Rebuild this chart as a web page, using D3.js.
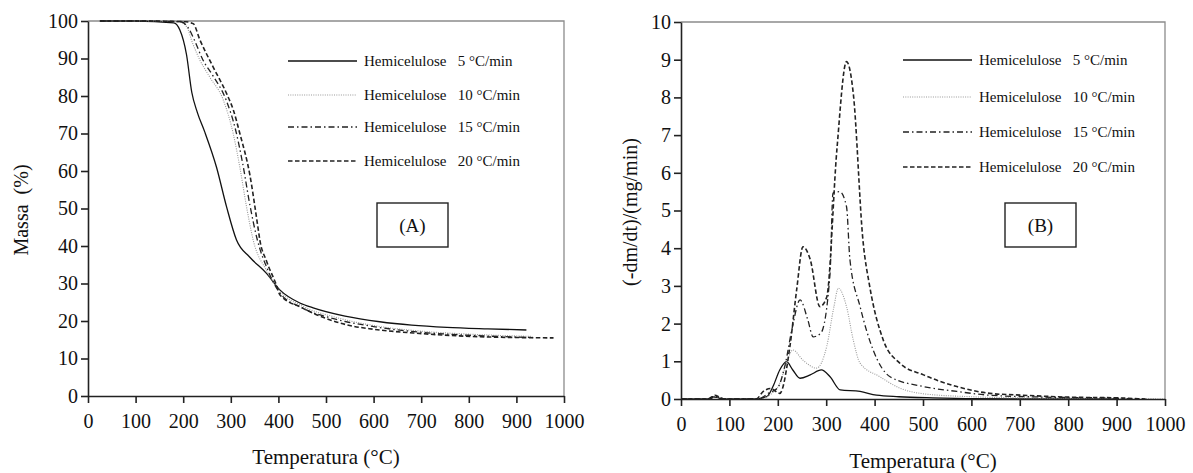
<!DOCTYPE html>
<html>
<head>
<meta charset="utf-8">
<script src="https://cdn.jsdelivr.net/npm/d3@7"></script>
<style>
  body { margin: 0; background: #fff; }
  svg text { font-family: "Liberation Serif", "Times New Roman", serif; fill: #111; }
</style>
</head>
<body>
<svg id="chart" width="1193" height="473"></svg>
<script>
// Dados -------------------------------------------------------------
const seriesNames = ["Hemicelulose   5 °C/min", "Hemicelulose   10 °C/min",
                     "Hemicelulose   15 °C/min", "Hemicelulose   20 °C/min"];

// (A) Massa (%) vs Temperatura
const tgaTemp5  = [25, 100, 180, 193, 207, 218, 230, 245, 270, 291, 312, 340, 375, 403, 445, 473, 540, 613, 680, 754, 840, 921];
const tgaMass5  = [100, 100, 99.5, 97.6, 91, 81, 75.5, 70.5, 61, 50.5, 41.6, 37, 32.7, 28.3, 24.8, 23.5, 21.3, 19.8, 18.9, 18.3, 17.9, 17.6];
const tgaTemp10 = [25, 100, 190, 207, 220, 235, 256, 284, 305, 319, 333, 347, 375, 403, 450, 520, 600, 700, 800, 930];
const tgaMass10 = [100, 100, 99.8, 98.5, 94, 89.6, 85, 79, 70, 61, 50.5, 41.6, 33.5, 28, 24, 21, 18.8, 17.3, 16.5, 15.9];
const tgaTemp15 = [25, 100, 195, 210, 225, 240, 262, 290, 310, 325, 340, 355, 378, 403, 450, 520, 600, 700, 800, 935];
const tgaMass15 = [100, 100, 99.8, 98.3, 94.5, 90, 85.5, 79, 71, 62, 51, 42, 33.5, 27.5, 23.5, 20.5, 18.5, 17, 16.2, 15.6];
const tgaTemp20 = [25, 100, 205, 221, 235, 263, 291, 306, 319, 340, 357, 361, 375, 396, 403, 450, 543, 600, 684, 824, 978];
const tgaMass20 = [100, 100, 99.8, 99.3, 95, 87.7, 80.7, 76, 70, 59, 45, 41.6, 36, 29.5, 27, 23.5, 19, 17.8, 16.8, 15.8, 15.5];

// (B) (-dm/dt)/(mg/min) vs Temperatura
const dtgTemp5  = [0, 55, 65, 75, 85, 150, 177, 190, 204, 218, 231, 246, 267, 290, 308, 329, 370, 404, 450, 520, 600, 700, 900];
const dtgRate5  = [0, 0, 0.06, 0.04, 0, 0, 0.06, 0.33, 0.77, 0.99, 0.77, 0.55, 0.64, 0.77, 0.59, 0.24, 0.2, 0.1, 0.06, 0.03, 0.01, 0, 0];
const dtgTemp10 = [0, 60, 70, 80, 90, 160, 185, 204, 218, 231, 252, 280, 301, 316, 325, 342, 356, 370, 411, 452, 500, 600, 700, 800, 1000];
const dtgRate10 = [0, 0, 0.07, 0.04, 0, 0, 0.12, 0.42, 0.95, 1.3, 1.03, 0.82, 1.39, 2.45, 2.94, 2.45, 1.56, 0.95, 0.59, 0.29, 0.14, 0.06, 0.03, 0.02, 0];
const dtgTemp15 = [0, 60, 70, 80, 90, 160, 180, 200, 215, 230, 246, 262, 273, 289, 308, 314, 328, 342, 349, 370, 397, 432, 501, 570, 638, 750, 900, 930];
const dtgRate15 = [0, 0, 0.08, 0.03, 0, 0, 0.15, 0.3, 0.9, 1.9, 2.63, 2.1, 1.65, 1.75, 3.34, 5.46, 5.5, 5.1, 3.7, 2.45, 1.3, 0.59, 0.33, 0.2, 0.1, 0.05, 0.02, 0];
const dtgTemp20 = [0, 60, 70, 80, 90, 155, 170, 185, 204, 225, 239, 252, 267, 287, 301, 322, 342, 356, 376, 390, 418, 452, 501, 570, 638, 707, 800, 900, 960];
const dtgRate20 = [0, 0, 0.1, 0.05, 0, 0, 0.2, 0.28, 0.15, 1.39, 2.9, 4.04, 3.7, 2.45, 2.7, 6.6, 8.95, 8.1, 4.2, 2.98, 1.56, 0.95, 0.64, 0.33, 0.15, 0.1, 0.05, 0.03, 0];

const xTicks = d3.range(0, 1001, 100);
const yTicksA = d3.range(0, 101, 10);
const yTicksB = d3.range(0, 11, 1);

// Estilos das linhas
const lineStyles = [
  { stroke: "#111", width: 1.3, dash: null },
  { stroke: "#999", width: 1.1, dash: "1,1.3" },
  { stroke: "#222", width: 1.3, dash: "6,3,1.5,3" },
  { stroke: "#222", width: 1.6, dash: "4.5,2.5" }
];

const serif = '"Liberation Serif", "Times New Roman", serif';
const svg = d3.select("#chart");

function zip(ts, vs) { return ts.map((t, i) => [t, vs[i]]); }

function drawPanel(cfg) {
  const x = d3.scaleLinear().domain([0, 1000]).range([cfg.left, cfg.right]);
  const y = d3.scaleLinear().domain([0, cfg.yMax]).range([cfg.bottom, cfg.top]);
  const g = svg.append("g");

  // moldura cinza (topo e direita)
  g.append("path")
    .attr("d", `M${cfg.left},${cfg.top}H${cfg.right}V${cfg.bottom}`)
    .attr("fill", "none").attr("stroke", "#8c8c8c").attr("stroke-width", 1.3);

  const line = d3.line()
    .x(d => x(d[0])).y(d => y(d[1]))
    .curve(d3.curveMonotoneX);

  cfg.series.forEach((s, i) => {
    const st = lineStyles[i];
    g.append("path")
      .datum(s)
      .attr("d", line)
      .attr("fill", "none")
      .attr("stroke", st.stroke)
      .attr("stroke-width", st.width)
      .attr("stroke-dasharray", st.dash);
  });

  const xAxis = g.append("g")
    .attr("transform", `translate(0,${cfg.bottom})`)
    .call(d3.axisBottom(x).tickValues(xTicks).tickFormat(d3.format("d"))
      .tickSize(7).tickSizeOuter(0).tickPadding(11));
  const yAxis = g.append("g")
    .attr("transform", `translate(${cfg.left},0)`)
    .call(d3.axisLeft(y).tickValues(cfg.yTicks).tickFormat(d3.format("d"))
      .tickSize(7).tickSizeOuter(0).tickPadding(3));

  [xAxis, yAxis].forEach(a => {
    a.attr("font-family", null);
    a.selectAll("path, line").attr("stroke", "#222").attr("stroke-width", 1.6);
    a.selectAll("text").attr("font-size", 20).style("font-family", serif);
  });
  xAxis.selectAll("text").attr("dy", "0.7em");

  // títulos dos eixos
  g.append("text")
    .attr("x", (cfg.left + cfg.right) / 2).attr("y", cfg.xTitleY)
    .attr("text-anchor", "middle").attr("font-size", 21)
    .text("Temperatura (°C)");
  g.append("text")
    .attr("transform", `translate(${cfg.yTitleX},${cfg.yTitleCY}) rotate(-90)`)
    .attr("text-anchor", "middle").attr("font-size", 20)
    .style("white-space", "pre")
    .text(cfg.yTitle);

  // legenda
  seriesNames.forEach((name, i) => {
    const st = lineStyles[i];
    const ly = cfg.legendY[i];
    g.append("line")
      .attr("x1", cfg.legX1).attr("x2", cfg.legX2).attr("y1", ly).attr("y2", ly)
      .attr("stroke", st.stroke).attr("stroke-width", st.width)
      .attr("stroke-dasharray", st.dash);
    g.append("text")
      .attr("x", cfg.legX2 + 7).attr("y", ly + 5)
      .attr("font-size", 15)
      .style("white-space", "pre")
      .text(name);
  });

  // caixa do rótulo (A)/(B)
  g.append("rect")
    .attr("x", cfg.box[0]).attr("y", cfg.box[1])
    .attr("width", cfg.box[2]).attr("height", cfg.box[3])
    .attr("fill", "#fff").attr("stroke", "#222").attr("stroke-width", 1.4);
  g.append("text")
    .attr("x", cfg.box[0] + cfg.box[2] / 2).attr("y", cfg.box[1] + cfg.box[3] / 2 + 7)
    .attr("text-anchor", "middle").attr("font-size", 19)
    .text(cfg.label);
}

drawPanel({
  left: 88, right: 564, top: 21, bottom: 396, yMax: 100, yTicks: yTicksA,
  series: [zip(tgaTemp5, tgaMass5), zip(tgaTemp10, tgaMass10), zip(tgaTemp15, tgaMass15), zip(tgaTemp20, tgaMass20)],
  xTitleY: 464, yTitleX: 28, yTitleCY: 210, yTitle: "Massa  (%)",
  legX1: 288, legX2: 357, legendY: [61, 95, 127, 161],
  box: [377, 203, 71, 44], label: "(A)"
});

drawPanel({
  left: 681, right: 1165, top: 22, bottom: 399, yMax: 10, yTicks: yTicksB,
  series: [zip(dtgTemp5, dtgRate5), zip(dtgTemp10, dtgRate10), zip(dtgTemp15, dtgRate15), zip(dtgTemp20, dtgRate20)],
  xTitleY: 468, yTitleX: 637, yTitleCY: 212, yTitle: "(-dm/dt)/(mg/min)",
  legX1: 903, legX2: 972, legendY: [60, 97, 132, 167],
  box: [1005, 203, 71, 44], label: "(B)"
});
</script>
</body>
</html>
